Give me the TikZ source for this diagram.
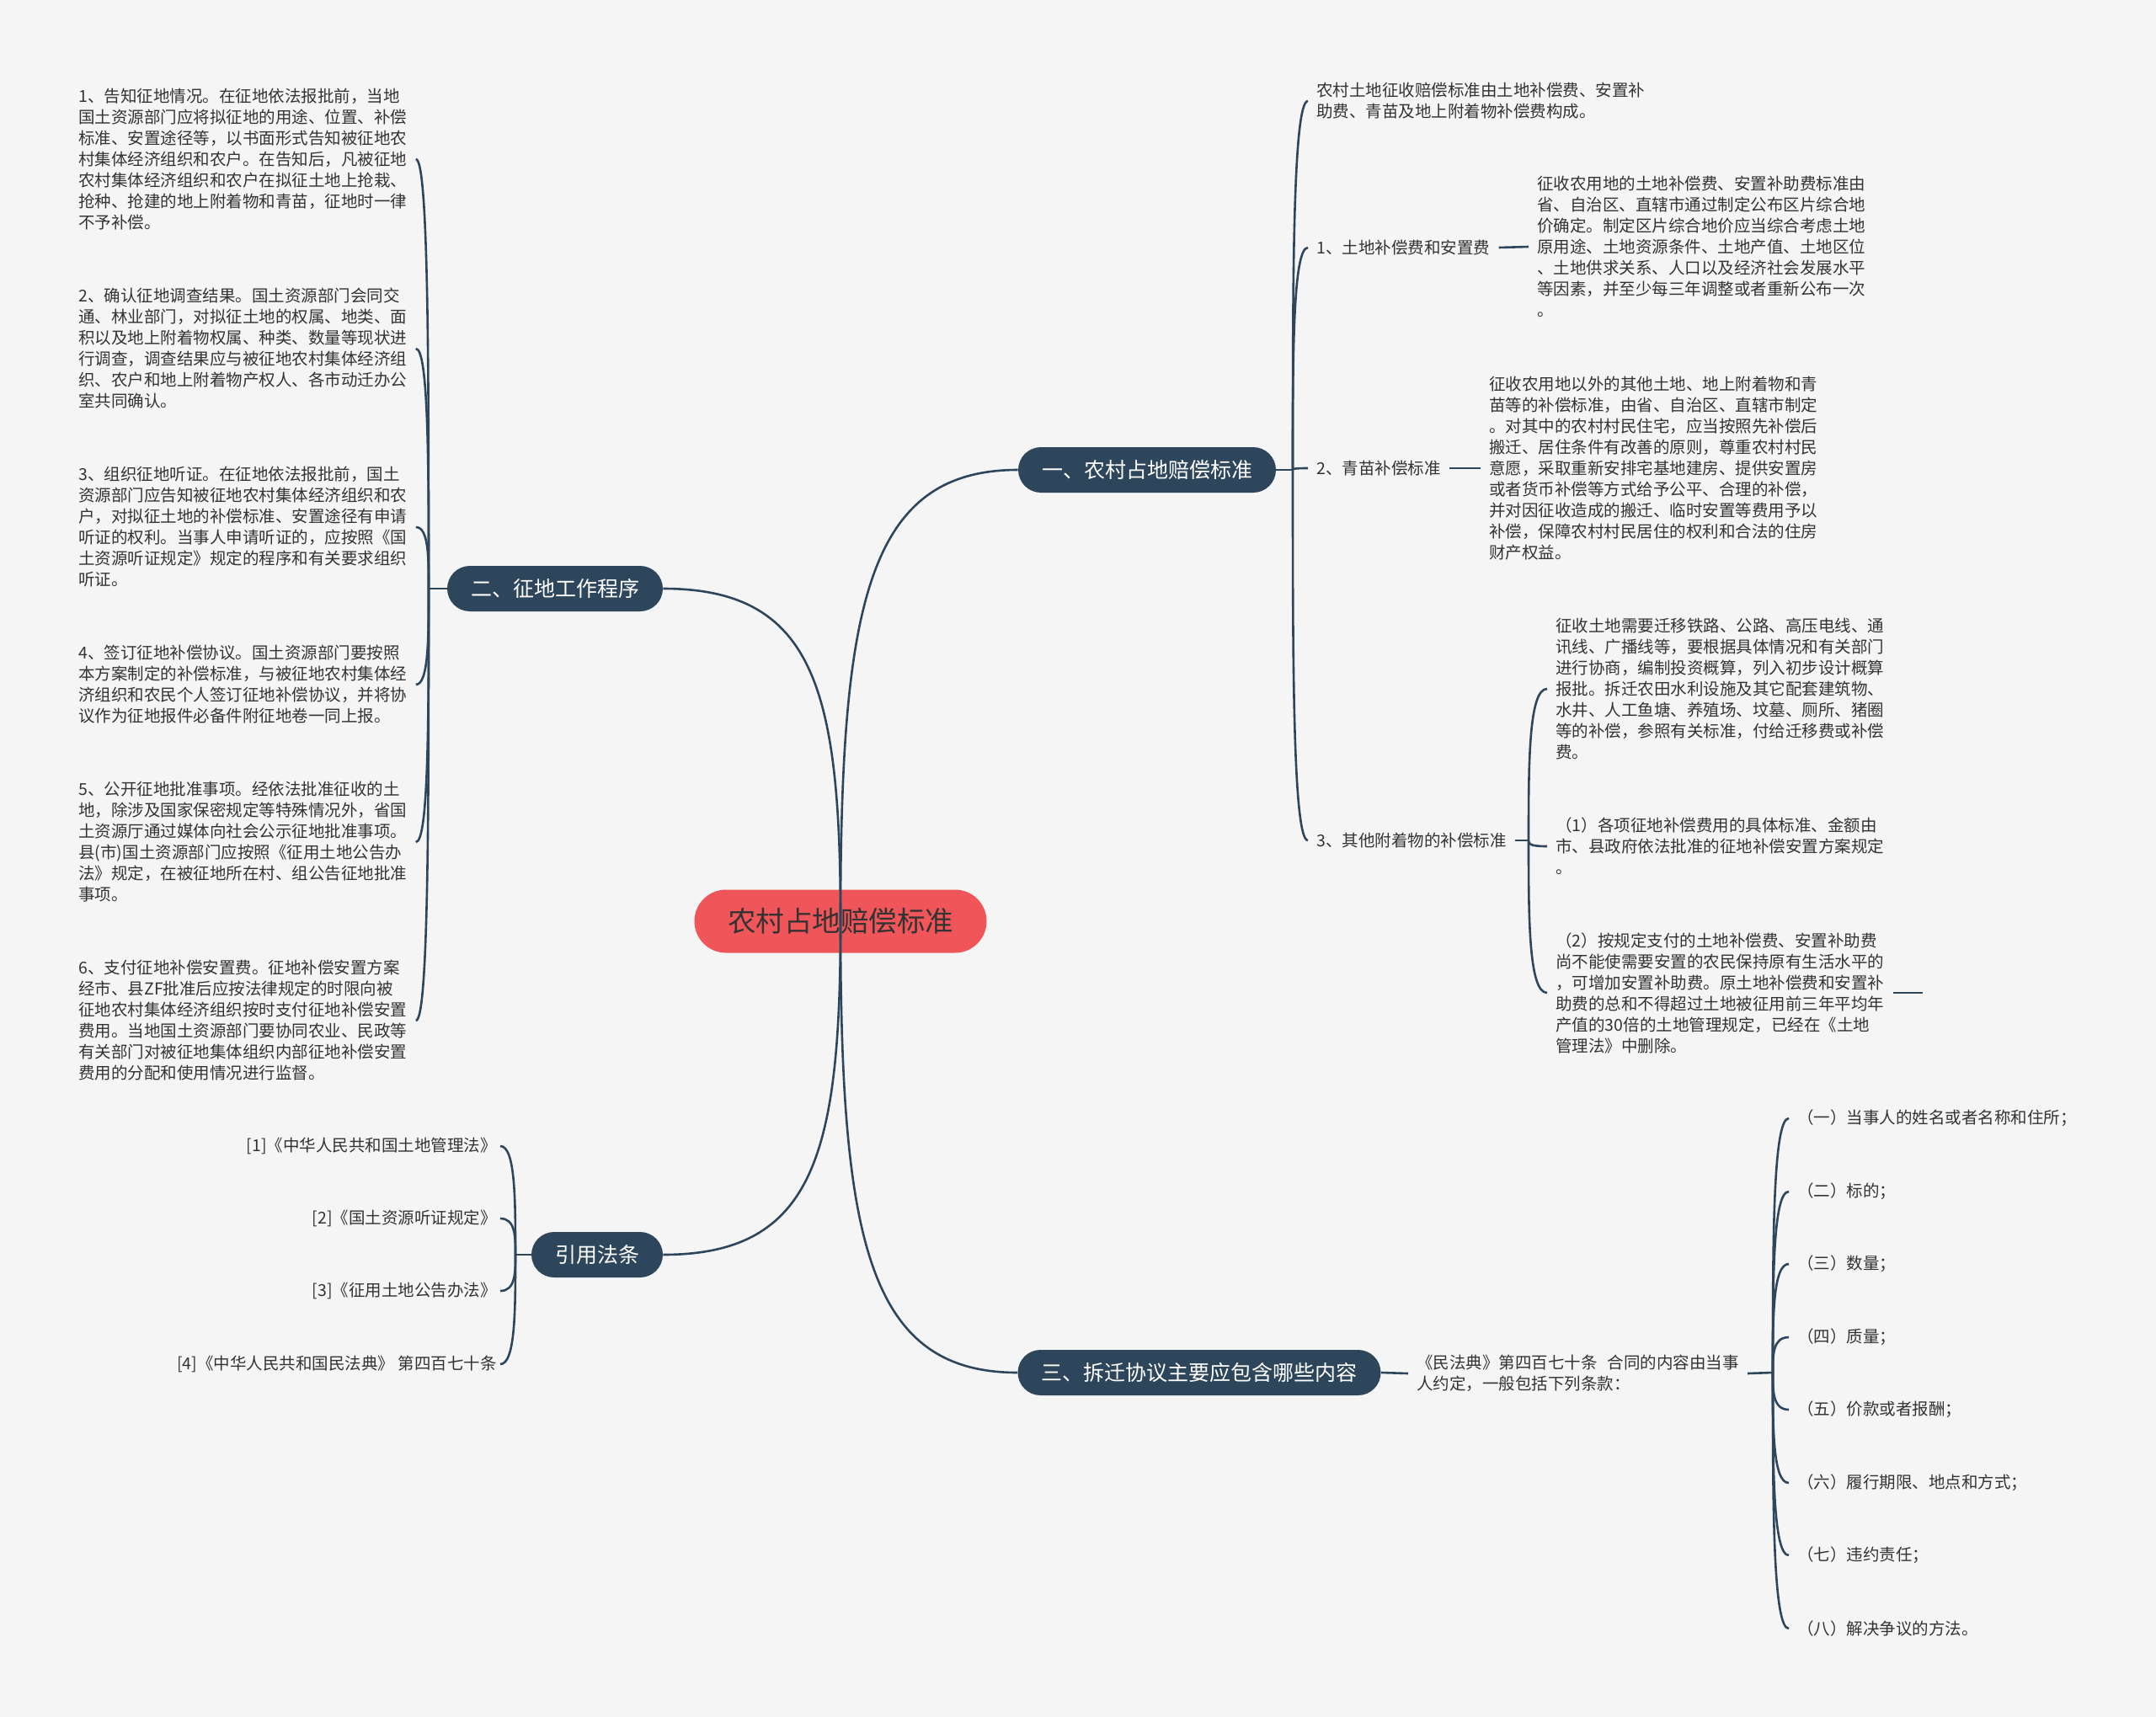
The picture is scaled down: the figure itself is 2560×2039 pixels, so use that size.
\documentclass[tikz,border=0pt]{standalone}
\usepackage{fontspec}
\setmainfont{Noto Sans CJK SC}
\usetikzlibrary{calc}
\definecolor{bgc}{RGB}{245,245,245}
\definecolor{navy}{RGB}{46,70,92}
\definecolor{redc}{RGB}{239,85,89}
\definecolor{txt}{RGB}{51,51,51}
\newcommand\mmlink[2]{\draw[link] (#1) .. controls ($(#1)!0.5!(#1 |- #2)$) and (#1 |- #2) .. (#2);}
\begin{document}
\begin{tikzpicture}[x=0.5pt,y=-0.5pt,
  root/.style={fill=redc, text=txt, rounded corners=18.75pt, minimum width=173.5pt, minimum height=37.5pt, inner sep=0pt, font=\fontsize{16.75pt}{20pt}\selectfont},
  topic/.style={fill=navy, text=white, rounded corners=13.5pt, minimum height=27pt, inner xsep=14pt, inner ysep=0pt, font=\fontsize{12.5pt}{15pt}\selectfont},
  leaf/.style={text=txt, align=left, inner xsep=5pt, inner ysep=0pt, font=\fontsize{9.75pt}{12.5pt}\selectfont},
  link/.style={draw=navy, line width=1.3pt},
]
\fill[bgc] (0,0) rectangle (2560,2039);
\useasboundingbox (0,0) rectangle (2560,2039);

% main nodes
\node[root] (c) at (998,1094) {农村占地赔偿标准};
\node[topic] (m1) at (1362,558) {一、农村占地赔偿标准};
\node[topic] (m2) at (659,699) {二、征地工作程序};
\node[topic] (m3) at (1424,1630) {三、拆迁协议主要应包含哪些内容};
\node[topic] (m4) at (709,1490) {引用法条};

% junctions
\coordinate (J1) at (1535,558);
\coordinate (J2) at (509,699);
\coordinate (J3) at (1815,998);
\coordinate (J4) at (2105,1630);
\coordinate (J5) at (612,1490);
\coordinate (D) at (2283,1179);

% left blocks
\node[leaf, anchor=west] (a1) at (83,189) {1、告知征地情况。在征地依法报批前，当地\\国土资源部门应将拟征地的用途、位置、补偿\\标准、安置途径等，以书面形式告知被征地农\\村集体经济组织和农户。在告知后，凡被征地\\农村集体经济组织和农户在拟征土地上抢栽、\\抢种、抢建的地上附着物和青苗，征地时一律\\不予补偿。};
\node[leaf, anchor=west] (a2) at (83,414) {2、确认征地调查结果。国土资源部门会同交\\通、林业部门，对拟征土地的权属、地类、面\\积以及地上附着物权属、种类、数量等现状进\\行调查，调查结果应与被征地农村集体经济组\\织、农户和地上附着物产权人、各市动迁办公\\室共同确认。};
\node[leaf, anchor=west] (a3) at (83,626) {3、组织征地听证。在征地依法报批前，国土\\资源部门应告知被征地农村集体经济组织和农\\户，对拟征土地的补偿标准、安置途径有申请\\听证的权利。当事人申请听证的，应按照《国\\土资源听证规定》规定的程序和有关要求组织\\听证。};
\node[leaf, anchor=west] (a4) at (83,813) {4、签订征地补偿协议。国土资源部门要按照\\本方案制定的补偿标准，与被征地农村集体经\\济组织和农民个人签订征地补偿协议，并将协\\议作为征地报件必备件附征地卷一同上报。};
\node[leaf, anchor=west] (a5) at (83,1000) {5、公开征地批准事项。经依法批准征收的土\\地，除涉及国家保密规定等特殊情况外，省国\\土资源厅通过媒体向社会公示征地批准事项。\\县(市)国土资源部门应按照《征用土地公告办\\法》规定，在被征地所在村、组公告征地批准\\事项。};
\node[leaf, anchor=west] (a6) at (83,1212) {6、支付征地补偿安置费。征地补偿安置方案\\经市、县ZF批准后应按法律规定的时限向被\\征地农村集体经济组织按时支付征地补偿安置\\费用。当地国土资源部门要协同农业、民政等\\有关部门对被征地集体组织内部征地补偿安置\\费用的分配和使用情况进行监督。};

% right side (一)
\node[leaf, anchor=west] (r0) at (1553,120) {农村土地征收赔偿标准由土地补偿费、安置补\\助费、青苗及地上附着物补偿费构成。};
\node[leaf, anchor=west] (r1) at (1553,294) {1、土地补偿费和安置费};
\node[leaf, anchor=west] (r2) at (1553,556) {2、青苗补偿标准};
\node[leaf, anchor=west] (r3) at (1553,998) {3、其他附着物的补偿标准};
\node[leaf, anchor=west] (r1c) at (1815,293) {征收农用地的土地补偿费、安置补助费标准由\\省、自治区、直辖市通过制定公布区片综合地\\价确定。制定区片综合地价应当综合考虑土地\\原用途、土地资源条件、土地产值、土地区位\\、土地供求关系、人口以及经济社会发展水平\\等因素，并至少每三年调整或者重新公布一次\\。};
\node[leaf, anchor=west] (r2c) at (1758,556) {征收农用地以外的其他土地、地上附着物和青\\苗等的补偿标准，由省、自治区、直辖市制定\\。对其中的农村村民住宅，应当按照先补偿后\\搬迁、居住条件有改善的原则，尊重农村村民\\意愿，采取重新安排宅基地建房、提供安置房\\或者货币补偿等方式给予公平、合理的补偿，\\并对因征收造成的搬迁、临时安置等费用予以\\补偿，保障农村村民居住的权利和合法的住房\\财产权益。};
\node[leaf, anchor=west] (r3a) at (1837,818) {征收土地需要迁移铁路、公路、高压电线、通\\讯线、广播线等，要根据具体情况和有关部门\\进行协商，编制投资概算，列入初步设计概算\\报批。拆迁农田水利设施及其它配套建筑物、\\水井、人工鱼塘、养殖场、坟墓、厕所、猪圈\\等的补偿，参照有关标准，付给迁移费或补偿\\费。};
\node[leaf, anchor=west] (r3b) at (1837,1005) {（1）各项征地补偿费用的具体标准、金额由\\市、县政府依法批准的征地补偿安置方案规定\\。};
\node[leaf, anchor=west] (r3c) at (1837,1179) {（2）按规定支付的土地补偿费、安置补助费\\尚不能使需要安置的农民保持原有生活水平的\\，可增加安置补助费。原土地补偿费和安置补\\助费的总和不得超过土地被征用前三年平均年\\产值的30倍的土地管理规定，已经在《土地\\管理法》中删除。};

% right side (三)
\node[leaf, anchor=west] (s0) at (1672,1631) {《民法典》第四百七十条\hspace{0.6em}合同的内容由当事\\人约定，一般包括下列条款：};
\node[leaf, anchor=west] (s1) at (2124,1328) {（一）当事人的姓名或者名称和住所；};
\node[leaf, anchor=west] (s2) at (2124,1415) {（二）标的；};
\node[leaf, anchor=west] (s3) at (2124,1501) {（三）数量；};
\node[leaf, anchor=west] (s4) at (2124,1588) {（四）质量；};
\node[leaf, anchor=west] (s5) at (2124,1674) {（五）价款或者报酬；};
\node[leaf, anchor=west] (s6) at (2124,1761) {（六）履行期限、地点和方式；};
\node[leaf, anchor=west] (s7) at (2124,1847) {（七）违约责任；};
\node[leaf, anchor=west] (s8) at (2124,1934) {（八）解决争议的方法。};

% refs
\node[leaf, anchor=east, inner xsep=2pt] (f1) at (594,1361) {[1]《中华人民共和国土地管理法》};
\node[leaf, anchor=east, inner xsep=2pt] (f2) at (594,1447) {[2]《国土资源听证规定》};
\node[leaf, anchor=east, inner xsep=2pt] (f3) at (594,1533) {[3]《征用土地公告办法》};
\node[leaf, anchor=east, inner xsep=2pt] (f4) at (594,1620) {[4]《中华人民共和国民法典》 第四百七十条};

% main connectors
\draw[link] (c.center) .. controls +(0,-375) and +(-179,0) .. (m1.west);
\draw[link] (c.center) .. controls +(0,-276) and +(179,0) .. (m2.east);
\draw[link] (c.center) .. controls +(0,277) and +(179,0) .. (m4.east);
\draw[link] (c.center) .. controls +(0,375) and +(-179,0) .. (m3.west);

% stubs
\draw[link] (m1.east) -- (J1);
\draw[link] (m2.west) -- (J2);
\draw[link] (r3.east) -- (J3);
\draw[link] (s0.east) -- (J4);
\draw[link] (m4.west) -- (J5);
\draw[link] (m3.east) -- (s0.west);
\draw[link] (r1.east) -- (r1c.west);
\draw[link] (r2.east) -- (r2c.west);
\draw[link] (r3c.east) -- (D);

% brackets
\mmlink{J2}{a1.east}
\mmlink{J2}{a2.east}
\mmlink{J2}{a3.east}
\mmlink{J2}{a4.east}
\mmlink{J2}{a5.east}
\mmlink{J2}{a6.east}
\mmlink{J1}{r0.west}
\mmlink{J1}{r1.west}
\mmlink{J1}{r2.west}
\mmlink{J1}{r3.west}
\mmlink{J3}{r3a.west}
\mmlink{J3}{r3b.west}
\mmlink{J3}{r3c.west}
\mmlink{J4}{s1.west}
\mmlink{J4}{s2.west}
\mmlink{J4}{s3.west}
\mmlink{J4}{s4.west}
\mmlink{J4}{s5.west}
\mmlink{J4}{s6.west}
\mmlink{J4}{s7.west}
\mmlink{J4}{s8.west}
\mmlink{J5}{f1.east}
\mmlink{J5}{f2.east}
\mmlink{J5}{f3.east}
\mmlink{J5}{f4.east}
\end{tikzpicture}
\end{document}
